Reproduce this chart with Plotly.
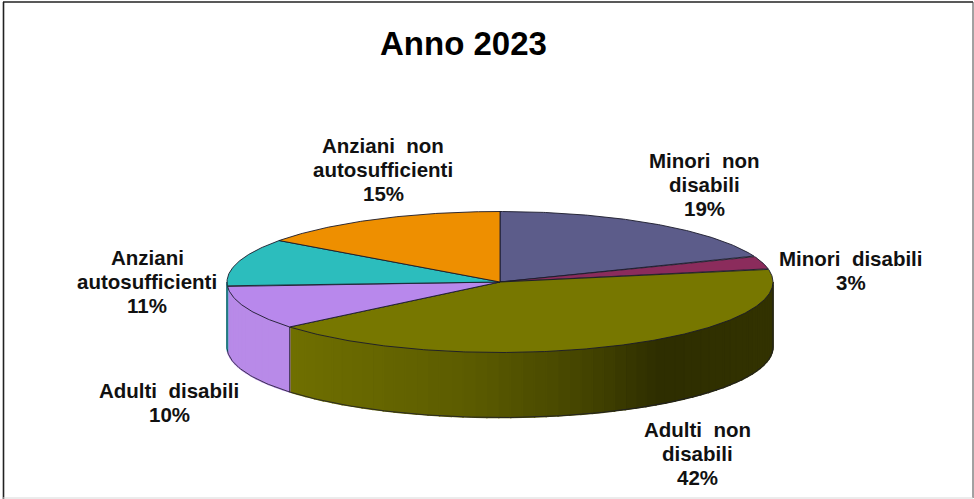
import numpy as np
import plotly.graph_objects as go

# ---- data ----
categories = ["Minori non disabili", "Minori disabili", "Adulti non disabili",
              "Adulti disabili", "Anziani autosufficienti", "Anziani non autosufficienti"]
values = [19, 3, 42, 10, 11, 15]
label_lines = [["Minori\u00a0 non", "disabili"], ["Minori\u00a0 disabili"], ["Adulti\u00a0 non", "disabili"],
               ["Adulti\u00a0 disabili"], ["Anziani", "autosufficienti"], ["Anziani\u00a0 non", "autosufficienti"]]
title = "Anno 2023"

# ---- style / layout ----
top_colors = ["#5c5c8a", "#8b2c5c", "#777700", "#b888ec", "#2cbdbd", "#ee8f00"]
W, H = 974, 499
cx, cy, rx, ry, depth = 500, 282, 273, 70.5, 65
label_pos = [(704, 184), (851, 270), (697, 453), (169, 402), (147, 281), (383, 169)]
line_pitch = 24
olive_stops_x = [289, 468, 583, 659, 773]
olive_stops_c = [(0x70, 0x70, 0), (0x5c, 0x5c, 0), (0x45, 0x45, 0), (0x2e, 0x2e, 0), (0x33, 0x33, 0)]
lilac_wall = "#b88ae8"
edge = "#1a1a2a"


def px(t):
    return cx + rx * np.sin(np.radians(t))


def py(t, dz=0.0):
    return cy - ry * np.cos(np.radians(t)) + dz


def wall_color(i, x):
    if i == 2:
        c = [np.interp(x, olive_stops_x, [s[k] for s in olive_stops_c]) for k in range(3)]
        return "rgb(%d,%d,%d)" % tuple(c)
    if i == 3:
        return lilac_wall
    return top_colors[i]


fig = go.Figure()
total = sum(values)
edges = np.cumsum([0] + values) / total * 360.0


def poly(xs, ys, fill, line, width):
    fig.add_trace(go.Scatter(x=xs, y=ys, mode="lines", fill="toself", fillcolor=fill,
                             line=dict(color=line, width=width), hoverinfo="skip", showlegend=False))


# side walls: only the front half of the cylinder is visible
for i in range(len(values)):
    a, b = max(edges[i], 90), min(edges[i + 1], 270)
    if b <= a:
        continue
    n = max(2, int((b - a) / 2.5))
    ts = np.linspace(a, b, n + 1)
    for t0, t1 in zip(ts[:-1], ts[1:]):
        c = wall_color(i, px((t0 + t1) / 2))
        sub = np.linspace(t0, t1, 5)
        xs = list(px(sub)) + list(px(sub[::-1]))
        ys = list(py(sub)) + list(py(sub[::-1], depth))
        poly(xs + xs[:1], ys + ys[:1], c, c, 1.5)

# outer wall edges
wt = np.linspace(90, 270, 181)
fig.add_trace(go.Scatter(x=px(wt), y=py(wt, depth), mode="lines", line=dict(color=edge, width=0.8),
                         hoverinfo="skip", showlegend=False))
for t in [90, edges[3], 270]:
    fig.add_trace(go.Scatter(x=[px(t), px(t)], y=[py(t), py(t, depth)], mode="lines",
                             line=dict(color=edge, width=0.8), hoverinfo="skip", showlegend=False))

# top face slices
for i in range(len(values)):
    ts = np.linspace(edges[i], edges[i + 1], max(4, int((edges[i + 1] - edges[i]) * 2)))
    xs = [cx] + list(px(ts)) + [cx]
    ys = [cy] + list(py(ts)) + [cy]
    poly(xs, ys, top_colors[i], edge, 0.9)

# labels: one annotation per line so the line pitch can follow the reference
for i, (lx, ly) in enumerate(label_pos):
    lines = label_lines[i] + [f"{values[i]}%"]
    y0 = ly - line_pitch * (len(lines) - 1) / 2
    for j, line in enumerate(lines):
        fig.add_annotation(x=lx, y=y0 + j * line_pitch, text=f"<b>{line}</b>", showarrow=False,
                           xanchor="center", yanchor="middle", align="center",
                           font=dict(family="Liberation Sans", size=20.5, color="#111111"))

fig.add_annotation(x=463, y=43, text=f"<b>{title}</b>", showarrow=False, xanchor="center", yanchor="middle",
                   font=dict(family="Liberation Sans", size=33, color="#000000"))

# frame
fig.add_shape(type="line", x0=3.5, x1=3.5, y0=2, y1=H, line=dict(color="#222222", width=1.6))
fig.add_shape(type="line", x0=3, x1=973, y0=2, y1=2, line=dict(color="#222222", width=1.6))
fig.add_shape(type="line", x0=973, x1=973, y0=2, y1=498, line=dict(color="#444444", width=1))
fig.add_shape(type="line", x0=3, x1=973, y0=498, y1=498, line=dict(color="#d8d8d8", width=1))

fig.update_layout(width=W, height=H, margin=dict(l=0, r=0, t=0, b=0),
                  paper_bgcolor="white", plot_bgcolor="white", showlegend=False,
                  xaxis=dict(range=[0, W], visible=False, fixedrange=True),
                  yaxis=dict(range=[H, 0], visible=False, fixedrange=True))
fig.write_html("out.html", config={"displayModeBar": False},
               post_script="document.body.style.margin='0';document.body.style.overflow='hidden';")
